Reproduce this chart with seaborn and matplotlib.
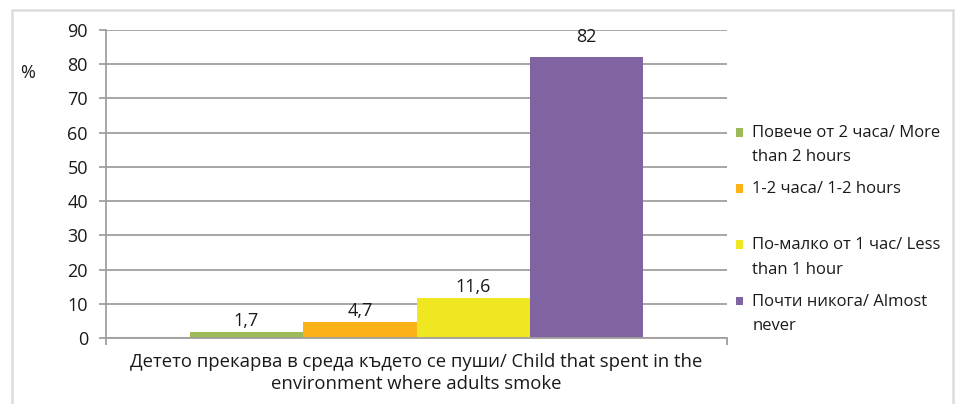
import matplotlib
matplotlib.use("Agg")
import matplotlib.pyplot as plt
import seaborn as sns
import pandas as pd
from matplotlib.patches import Rectangle
from matplotlib.legend_handler import HandlerPatch

category = ["Детето прекарва в среда където се пуши/ Child that spent in the\nenvironment where adults smoke"]
series = ["Повече от 2 часа/ More\nthan 2 hours",
          "1-2 часа/ 1-2 hours\n ",
          "По-малко от 1 час/ Less\nthan 1 hour",
          "Почти никога/ Almost\nnever"]
values = [1.7, 4.7, 11.6, 82]
value_labels = ["1,7", "4,7", "11,6", "82"]
colors = ["#9bbb59", "#fbb217", "#f0e723", "#8064a2"]
yticks = [0, 10, 20, 30, 40, 50, 60, 70, 80, 90]

sns.set_style("white")
plt.rcParams["font.family"] = ["Open Sans", "DejaVu Sans"]

df = pd.DataFrame({"cat": category * len(series), "series": series, "value": values})

fig = plt.figure(figsize=(9.6, 4.04), dpi=100)
ax = fig.add_axes([106 / 960, 1 - 338 / 404, (727 - 106) / 960, (338 - 30) / 404])

sns.barplot(data=df, x="cat", y="value", hue="series", hue_order=series,
            palette=colors, width=0.73, gap=0, ax=ax, saturation=1,
            linewidth=0, edgecolor="none", legend=True)

txt = "#1a1a1a"
ax.set_xlim(-0.5, 0.5)
ax.set_ylim(0, 90)
ax.set_yticks(yticks)
ax.set_yticklabels([str(t) for t in yticks], fontsize=13)
ax.yaxis.grid(True, color="#a39e9c", linewidth=1.3)
ax.set_axisbelow(True)
for s in ["top", "right"]:
    ax.spines[s].set_visible(False)
for s in ["left", "bottom"]:
    ax.spines[s].set_color("#a39e9c")
    ax.spines[s].set_linewidth(1.3)
ax.tick_params(axis="y", which="both", left=True, length=5, width=1.3, color="#a39e9c", pad=8, labelcolor=txt)
ax.set_xticks([-0.5, 0.5])
ax.set_xticklabels(["", ""])
ax.tick_params(axis="x", bottom=True, length=5, width=1.3, color="#a39e9c")
ax.set_xlabel(category[0], fontsize=13.3, color=txt, linespacing=1.3, labelpad=2.5)
ax.set_ylabel("%", rotation=0, fontsize=13, color=txt, va="center", ha="center")
ax.yaxis.set_label_coords(-0.127, 0.86)

for i, cont in enumerate(ax.containers):
    ax.bar_label(cont, labels=[value_labels[i]], padding=(8 if i == 3 else 1.5),
                 fontsize=13, color=txt)

def square(legend, orig_handle, xdescent, ydescent, width, height, fontsize):
    return Rectangle((-xdescent, -ydescent + 9.3), width, height)

handles, labels = ax.get_legend_handles_labels()
if ax.get_legend():
    ax.get_legend().remove()
leg = fig.legend(handles, labels, loc="upper left", bbox_to_anchor=(736 / 960, 1 - 125 / 404),
                 frameon=False, fontsize=12, handlelength=0.42, handleheight=0.42,
                 handletextpad=0.55, labelspacing=0.95, borderpad=0, borderaxespad=0,
                 handler_map={Rectangle: HandlerPatch(patch_func=square)})
for t in leg.get_texts():
    t.set_linespacing(1.7)
    t.set_color(txt)

fig.patches.append(Rectangle((12 / 960, -0.05), (953 - 12) / 960, 1 - 10 / 404 + 0.05,
                             transform=fig.transFigure, fill=False, edgecolor="#dcdcdc",
                             linewidth=1.8, zorder=0))

fig.savefig("out.png", dpi=100)
